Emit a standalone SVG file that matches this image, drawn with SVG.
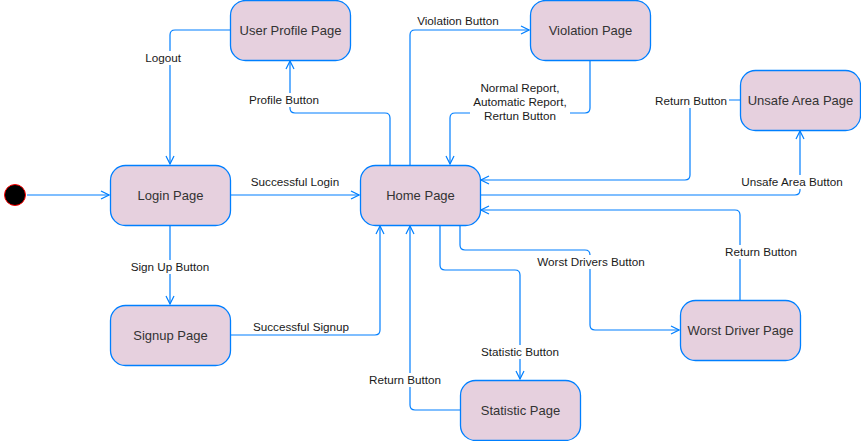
<svg xmlns="http://www.w3.org/2000/svg" width="861" height="441" viewBox="0 0 861 441">
<style>
.node rect{fill:#e6d0de;stroke:#007fff;stroke-width:1.3}
.node text{font-family:"Liberation Sans",Arial,sans-serif;font-size:13px;fill:#333;text-anchor:middle}
.edge{fill:none;stroke:#007fff;stroke-width:1.2}
.lbl{font-family:"Liberation Sans",Arial,sans-serif;font-size:11.7px;fill:#1a1a1a;text-anchor:middle}
.bg{fill:#fff}
</style>
<defs>
<marker id="arr" viewBox="0 0 10 10" refX="9" refY="5" markerWidth="10" markerHeight="10" markerUnits="userSpaceOnUse" orient="auto">
<path d="M1,1 L9,5 L1,9" fill="none" stroke="#007fff" stroke-width="1.2"/>
</marker>
</defs>
<rect width="861" height="441" fill="#fff"/>
<g id="connectors">
<path class="edge" d="M27,195 H109" marker-end="url(#arr)"/>
<path class="edge" d="M230,195 H359" marker-end="url(#arr)"/>
<path class="edge" d="M230,30 H175 Q170,30 170,35 V164" marker-end="url(#arr)"/>
<path class="edge" d="M390,165 V118 Q390,113 385,113 H295 Q290,113 290,108 V61" marker-end="url(#arr)"/>
<path class="edge" d="M410,165 V35 Q410,30 415,30 H529" marker-end="url(#arr)"/>
<path class="edge" d="M590,60 V108 Q590,113 585,113 H455 Q450,113 450,118 V164" marker-end="url(#arr)"/>
<path class="edge" d="M740,100 H690 V175 Q690,180 685,180 H481" marker-end="url(#arr)"/>
<path class="edge" d="M480,195 H795 Q800,195 800,190 V131" marker-end="url(#arr)"/>
<path class="edge" d="M740,300 V215 Q740,210 735,210 H481" marker-end="url(#arr)"/>
<path class="edge" d="M460,225 V245 Q460,250 465,250 H585 Q590,250 590,255 V325 Q590,330 595,330 H679" marker-end="url(#arr)"/>
<path class="edge" d="M440,225 V265 Q440,270 445,270 H515 Q520,270 520,275 V379" marker-end="url(#arr)"/>
<path class="edge" d="M460,410 H415 Q410,410 410,405 V226" marker-end="url(#arr)"/>
<path class="edge" d="M170,225 V304" marker-end="url(#arr)"/>
<path class="edge" d="M230,335 H375 Q380,335 380,330 V226" marker-end="url(#arr)"/>
<g id="labels">
<text class="lbl" x="295" y="186">Successful Login</text>
<rect class="bg" x="144" y="51" width="38" height="14"/>
<text class="lbl" x="163" y="62">Logout</text>
<rect class="bg" x="246" y="93" width="76" height="14"/>
<text class="lbl" x="284" y="104">Profile Button</text>
<text class="lbl" x="458" y="25">Violation Button</text>
<rect class="bg" x="470" y="80" width="100" height="42"/>
<text class="lbl" x="520" y="92">Normal Report,</text>
<text class="lbl" x="520" y="106">Automatic Report,</text>
<text class="lbl" x="520" y="120">Rertun Button</text>
<rect class="bg" x="653" y="94" width="76" height="14"/>
<text class="lbl" x="691" y="105">Return Button</text>
<rect class="bg" x="739" y="175" width="106" height="14"/>
<text class="lbl" x="792" y="186">Unsafe Area Button</text>
<rect class="bg" x="723" y="245" width="76" height="14"/>
<text class="lbl" x="761" y="256">Return Button</text>
<rect class="bg" x="535" y="255" width="112" height="14"/>
<text class="lbl" x="591" y="266">Worst Drivers Button</text>
<rect class="bg" x="480" y="345" width="82" height="14"/>
<text class="lbl" x="520" y="356">Statistic Button</text>
<rect class="bg" x="367" y="373" width="76" height="14"/>
<text class="lbl" x="405" y="384">Return Button</text>
<rect class="bg" x="129" y="260" width="82" height="14"/>
<text class="lbl" x="170" y="271">Sign Up Button</text>
<text class="lbl" x="301" y="331">Successful Signup</text>
</g>
</g>
<g id="initial"><circle cx="15" cy="195" r="10.5" fill="#000" stroke="#ff0000" stroke-width="1"/></g>
<g id="user-profile" class="node"><rect x="230.5" y="0.5" width="120" height="60" rx="15"/><text x="290.5" y="35">User Profile Page</text></g>
<g id="login" class="node"><rect x="110.5" y="165.5" width="120" height="60" rx="15"/><text x="170.5" y="200">Login Page</text></g>
<g id="home" class="node"><rect x="360.5" y="165.5" width="120" height="60" rx="15"/><text x="420.5" y="200">Home Page</text></g>
<g id="violation" class="node"><rect x="530.5" y="0.5" width="120" height="60" rx="15"/><text x="590.5" y="35">Violation Page</text></g>
<g id="unsafe" class="node"><rect x="740.5" y="70.5" width="120" height="60" rx="15"/><text x="800.5" y="105">Unsafe Area Page</text></g>
<g id="signup" class="node"><rect x="110.5" y="305.5" width="120" height="60" rx="15"/><text x="170.5" y="340">Signup Page</text></g>
<g id="worst" class="node"><rect x="680.5" y="300.5" width="120" height="60" rx="15"/><text x="740.5" y="335">Worst Driver Page</text></g>
<g id="statistic" class="node"><rect x="460.5" y="380.5" width="120" height="60" rx="15"/><text x="520.5" y="415">Statistic Page</text></g>
</svg>
